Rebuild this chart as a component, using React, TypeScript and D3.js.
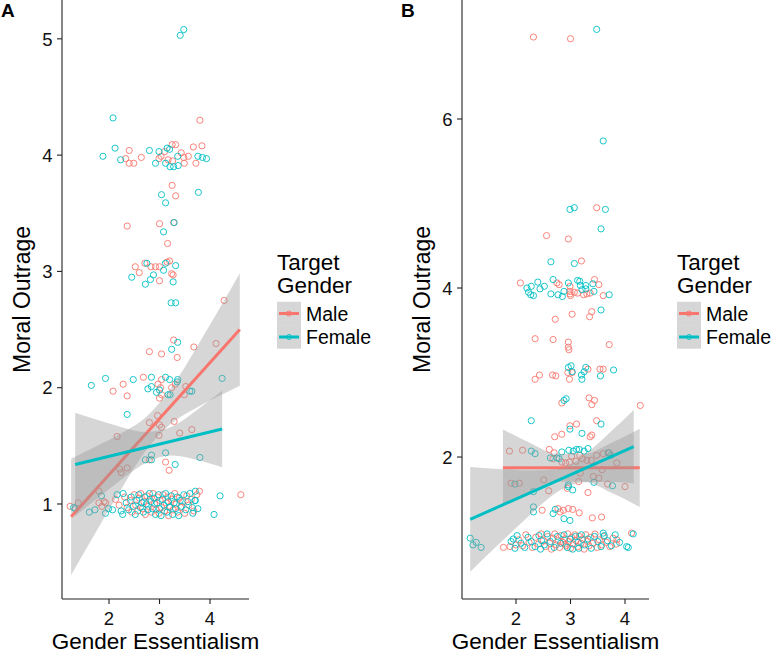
import * as d3 from "d3";

type Pt = [number, number];

const MALE = "#F8766D";
const FEMALE = "#00BFC4";
const FONT = "'Liberation Sans', Arial, sans-serif";

// ---- Panel A points (x = gender essentialism, y = moral outrage)
const maleA: Pt[] = [
  [3.8, 4.3], [2.4, 4.04], [2.33, 3.97], [2.4, 3.93], [2.49, 3.93], [2.64, 3.98], [2.99, 3.97], [3.03, 3.99],
  [3.1, 4.03], [3.25, 4.09], [3.32, 4.09], [3.26, 3.95], [3.17, 3.96], [3.43, 4.02], [3.48, 3.98], [3.49, 3.93],
  [3.57, 3.99], [3.67, 4.07], [3.84, 4.08], [3.72, 3.93],
  [3.25, 3.74], [3.32, 3.65], [2.36, 3.39], [3.0, 3.41], [3.28, 3.42], [3.16, 3.24],
  [2.52, 3.04], [2.6, 2.99], [2.71, 3.07], [2.83, 3.04], [2.92, 3.04], [3.0, 3.04], [3.0, 2.92], [3.15, 3.08],
  [3.2, 3.09], [3.24, 2.98], [3.27, 2.97], [4.28, 2.75],
  [3.28, 2.41], [2.8, 2.31], [3.04, 2.29], [3.35, 2.26], [3.68, 2.35], [4.12, 2.38],
  [2.28, 2.03], [2.08, 1.97], [2.36, 1.93], [2.68, 2.09], [3.04, 2.07], [2.97, 2.03], [3.02, 2.0], [3.0, 1.91],
  [3.04, 1.94], [3.24, 2.0], [3.31, 2.03], [3.52, 2.01], [3.49, 1.94],
  [2.96, 1.76], [2.8, 1.7], [3.0, 1.68], [3.04, 1.66], [3.29, 1.71], [2.99, 1.59], [3.4, 1.61], [3.64, 1.64], [2.16, 1.58],
  [2.8, 1.38], [3.12, 1.36], [3.19, 1.29], [2.21, 1.3], [2.24, 1.27], [2.36, 1.31],
  [1.23, 0.98], [1.39, 1.01], [1.8, 1.11], [1.8, 1.01], [1.9, 1.02], [1.93, 1.01], [1.86, 0.98], [3.79, 1.11], [4.61, 1.08],
  [2.31, 1.06], [2.36, 0.97], [2.42, 1.03], [2.45, 0.93], [2.5, 1.08], [2.53, 0.99], [2.57, 0.94], [2.6, 1.05],
  [2.63, 1.09], [2.66, 0.96], [2.69, 1.02], [2.72, 0.91], [2.75, 1.07], [2.78, 0.98], [2.81, 1.04], [2.84, 0.93],
  [2.87, 1.09], [2.9, 1.0], [2.93, 0.95], [2.96, 1.06], [2.99, 0.92], [3.01, 1.03], [3.04, 0.97], [3.07, 1.08],
  [3.1, 0.94], [3.13, 1.01], [3.16, 1.06], [3.18, 0.9], [3.21, 0.98], [3.24, 1.04], [3.27, 0.95], [3.3, 1.09],
  [3.33, 1.0], [3.36, 0.93], [3.39, 1.05], [3.42, 0.97], [3.46, 1.02], [3.5, 0.92], [3.54, 1.07], [3.58, 0.99],
  [3.63, 1.04], [3.68, 0.94], [3.74, 1.08], [2.2, 0.99], [2.13, 1.04],
];

const femaleA: Pt[] = [
  [3.41, 5.03], [3.48, 5.08], [2.08, 4.32], [1.88, 3.99], [2.12, 4.06], [2.23, 3.96], [2.8, 4.04], [2.99, 4.03],
  [2.92, 3.93], [3.15, 4.06], [3.2, 4.05], [3.12, 3.93], [3.21, 3.9], [3.28, 3.9], [3.36, 3.99], [3.37, 3.91],
  [3.76, 3.99], [3.85, 3.98], [3.93, 3.97],
  [3.04, 3.66], [3.77, 3.68], [3.12, 3.59], [3.29, 3.42], [3.08, 3.34],
  [2.45, 2.95], [2.75, 3.07], [2.72, 2.89], [2.82, 2.93], [2.88, 2.97], [3.08, 3.01], [3.12, 3.07], [3.32, 3.05],
  [3.27, 2.91], [3.23, 2.73], [3.32, 2.73],
  [3.36, 2.39], [3.24, 2.33],
  [1.65, 2.02], [1.93, 2.08], [2.48, 2.07], [2.84, 2.09], [3.12, 2.09], [3.2, 2.07], [2.77, 1.99], [2.84, 2.01],
  [2.94, 1.96], [3.0, 1.98], [3.17, 1.94], [3.21, 1.94], [3.36, 2.07], [3.35, 2.05], [3.64, 1.97], [3.6, 1.97], [4.24, 2.08],
  [2.36, 1.77],
  [2.72, 1.38], [2.84, 1.42], [2.84, 1.38], [3.12, 1.44], [3.31, 1.34], [3.8, 1.4],
  [1.33, 0.96], [1.3, 0.97], [1.61, 0.93], [1.72, 0.95], [1.85, 1.07], [1.99, 0.96], [2.07, 0.95], [1.93, 0.92],
  [2.27, 0.91], [4.2, 1.07], [4.08, 0.91], [3.71, 1.11], [3.71, 1.03], [3.76, 0.96], [3.66, 0.92],
  [2.28, 1.09], [2.34, 1.01], [2.39, 0.95], [2.44, 1.06], [2.48, 0.98], [2.52, 0.91], [2.55, 1.03], [2.59, 1.08],
  [2.62, 0.97], [2.65, 1.01], [2.68, 0.93], [2.71, 1.06], [2.74, 1.0], [2.77, 0.95], [2.8, 1.09], [2.83, 1.02],
  [2.86, 0.96], [2.89, 1.05], [2.92, 0.91], [2.95, 1.01], [2.98, 1.08], [3.0, 0.96], [3.03, 0.9], [3.06, 1.04],
  [3.09, 0.99], [3.12, 1.09], [3.15, 0.93], [3.17, 1.02], [3.2, 0.97], [3.23, 1.07], [3.26, 0.91], [3.29, 1.01],
  [3.32, 0.96], [3.35, 1.06], [3.38, 0.9], [3.41, 1.03], [3.44, 0.98], [3.48, 1.08], [3.52, 0.95], [3.56, 1.02],
  [3.6, 1.09], [3.65, 0.97], [3.7, 1.03], [2.16, 1.08], [2.24, 0.94],
];

// ---- Panel B points
const maleB: Pt[] = [
  [2.32, 6.97], [3.0, 6.95], [3.48, 4.95], [2.56, 4.62], [2.96, 4.58], [3.2, 4.32],
  [2.08, 4.06], [2.75, 4.06], [2.79, 4.04], [2.99, 4.02], [2.99, 3.96], [3.0, 3.91], [2.99, 3.93], [3.07, 3.95],
  [3.13, 3.94], [3.24, 3.92], [3.3, 3.93], [3.36, 3.94], [3.44, 4.1], [3.52, 4.04], [3.6, 3.91],
  [2.72, 3.63], [3.03, 3.69], [3.39, 3.72], [3.35, 3.66],
  [2.35, 3.4], [2.68, 3.39], [2.96, 3.36], [2.96, 3.3], [2.97, 3.27], [3.71, 3.33],
  [2.35, 2.92], [2.43, 2.97], [2.67, 2.97], [2.73, 2.96], [2.95, 3.0], [2.98, 2.92], [3.03, 3.0], [3.32, 3.04],
  [3.54, 3.04], [3.6, 3.04],
  [2.84, 2.64], [3.34, 2.7], [3.39, 2.62], [3.44, 2.67], [4.28, 2.61], [3.48, 2.43], [2.99, 2.37], [3.11, 2.39],
  [2.71, 2.24], [2.84, 2.27], [3.36, 2.24], [3.39, 2.26],
  [1.88, 2.07], [2.12, 2.08], [2.61, 2.09], [2.7, 2.05], [2.68, 1.98], [2.84, 1.94], [2.91, 1.93], [2.98, 1.94],
  [3.02, 2.01], [3.1, 1.95], [3.17, 2.02], [3.22, 1.98], [3.3, 1.96], [3.38, 1.96], [3.48, 2.02], [3.6, 2.04],
  [3.85, 1.93], [3.71, 2.05],
  [3.58, 1.85], [3.42, 1.77], [3.52, 1.75], [3.18, 1.81], [3.15, 1.71], [2.94, 1.63], [1.91, 1.69], [2.06, 1.69],
  [2.51, 1.73], [2.6, 1.6], [3.68, 1.68], [4.0, 1.65], [3.32, 1.58],
  [2.48, 1.37], [2.77, 1.39], [2.81, 1.35], [2.87, 1.37], [2.96, 1.39], [3.04, 1.38], [3.16, 1.34], [3.4, 1.28], [3.57, 1.29],
  [1.77, 0.93], [1.89, 0.94], [4.12, 1.1], [3.85, 1.02],
  [2.05, 1.02], [2.12, 0.95], [2.18, 1.08], [2.24, 0.99], [2.3, 0.93], [2.36, 1.05], [2.41, 0.97], [2.46, 1.09],
  [2.5, 1.01], [2.54, 0.94], [2.58, 1.06], [2.62, 0.98], [2.65, 0.91], [2.68, 1.04], [2.71, 1.09], [2.74, 0.96],
  [2.77, 1.01], [2.8, 0.93], [2.83, 1.07], [2.86, 0.99], [2.89, 1.03], [2.92, 0.95], [2.95, 1.09], [2.97, 1.0],
  [3.0, 0.92], [3.02, 1.05], [3.05, 0.97], [3.08, 1.08], [3.1, 1.01], [3.13, 0.94], [3.16, 1.06], [3.19, 0.98],
  [3.22, 1.03], [3.25, 0.91], [3.28, 1.08], [3.31, 1.0], [3.34, 0.95], [3.37, 1.05], [3.41, 0.98], [3.45, 1.09],
  [3.49, 0.93], [3.53, 1.02], [3.57, 0.96], [3.61, 1.06], [3.66, 0.99], [3.72, 0.94], [3.78, 1.04], [3.84, 0.97],
  [2.0, 0.96], [2.9, 0.97],
];

const femaleB: Pt[] = [
  [3.48, 7.06], [3.6, 5.74], [2.99, 4.93], [3.07, 4.95], [3.64, 4.93], [3.56, 4.7], [2.64, 4.31], [3.07, 4.29],
  [2.2, 4.0], [2.28, 4.02], [2.23, 3.95], [2.32, 3.91], [2.27, 3.92], [2.4, 4.07], [2.44, 3.99], [2.52, 4.02],
  [2.68, 4.1], [2.64, 3.93], [2.77, 3.92], [2.85, 3.9], [2.88, 3.96], [2.96, 4.06], [3.13, 4.09], [3.17, 4.08],
  [3.18, 4.03], [3.21, 3.98], [3.28, 4.03], [3.28, 3.99], [3.41, 4.05], [3.43, 3.96], [3.71, 3.92], [3.56, 3.74],
  [2.96, 3.06], [3.01, 3.08], [3.03, 3.01], [3.21, 2.92], [3.2, 2.97], [3.25, 3.01], [3.28, 3.06], [3.55, 2.96], [3.79, 3.03],
  [2.92, 2.69], [2.88, 2.67], [2.28, 2.43], [3.56, 2.39], [2.99, 2.33], [3.21, 2.28],
  [2.28, 2.07], [2.35, 2.04], [2.63, 1.99], [2.75, 1.99], [2.84, 2.06], [2.79, 1.98], [2.97, 2.08], [3.05, 2.07],
  [3.11, 2.09], [3.16, 2.09], [3.25, 2.07], [3.32, 2.1], [3.69, 2.05], [3.74, 2.02],
  [3.43, 1.7], [2.96, 1.67], [3.04, 1.61], [2.96, 1.65], [1.98, 1.68], [2.32, 1.59], [3.77, 1.66],
  [2.32, 1.41], [2.32, 1.35], [2.68, 1.33], [2.72, 1.38], [2.99, 1.25], [2.88, 1.27],
  [1.16, 1.04], [1.21, 0.96], [1.27, 0.99], [1.36, 0.93], [1.91, 1.0], [1.98, 0.92], [4.03, 0.94], [4.06, 0.93],
  [4.15, 1.09], [3.6, 1.1],
  [2.02, 1.07], [2.09, 0.98], [2.16, 0.93], [2.22, 1.05], [2.28, 1.0], [2.35, 0.94], [2.42, 1.07], [2.47, 1.01],
  [2.52, 0.96], [2.57, 1.09], [2.63, 1.0], [2.7, 0.93], [2.76, 1.06], [2.82, 0.98], [2.88, 1.08], [2.94, 0.93],
  [2.99, 1.03], [3.04, 0.91], [3.09, 1.06], [3.14, 0.99], [3.2, 1.08], [3.26, 0.96], [3.32, 1.03], [3.38, 0.92],
  [3.44, 1.06], [3.5, 1.0], [3.56, 0.94], [3.62, 1.07], [3.68, 1.01], [3.75, 0.95], [3.82, 1.08], [3.9, 0.99],
  [1.95, 1.03], [2.45, 0.91], [3.15, 0.92],
];

// ---- fitted lines and 95% confidence bands
const lineMaleA: Pt[] = [[1.25, 0.89], [4.59, 2.5]];
const lineFemaleA: Pt[] = [[1.33, 1.34], [4.24, 1.645]];
const lineMaleB: Pt[] = [[1.76, 1.873], [4.27, 1.873]];
const lineFemaleB: Pt[] = [[1.16, 1.263], [4.16, 2.122]];

const bandMaleAx = [1.25, 1.75, 2.25, 2.75, 3.25, 3.75, 4.25, 4.59];
const bandMaleAlo = [0.39, 0.766, 1.134, 1.471, 1.698, 1.833, 1.944, 2.016];
const bandMaleAhi = [1.39, 1.496, 1.61, 1.755, 2.01, 2.357, 2.728, 2.984];

const bandFemaleAx = [1.33, 1.75, 2.25, 2.75, 3.25, 3.75, 4.24];
const bandFemaleAlo = [0.895, 1.042, 1.211, 1.359, 1.416, 1.378, 1.315];
const bandFemaleAhi = [1.785, 1.726, 1.661, 1.619, 1.666, 1.81, 1.975];

const bandMaleBx = [1.76, 2.25, 2.75, 3.25, 3.75, 4.27];
const bandMaleBlo = [1.42, 1.577, 1.708, 1.708, 1.577, 1.41];
const bandMaleBhi = [2.326, 2.169, 2.038, 2.038, 2.169, 2.336];

const bandFemaleBx = [1.16, 1.75, 2.25, 2.75, 3.25, 3.75, 4.16];
const bandFemaleBlo = [0.643, 1.008, 1.31, 1.582, 1.701, 1.703, 1.688];
const bandFemaleBhi = [1.883, 1.856, 1.84, 1.854, 2.021, 2.307, 2.556];

const ticksAx = [2, 3, 4];
const ticksAy = [1, 2, 3, 4, 5];
const ticksBx = [2, 3, 4];
const ticksBy = [2, 4, 6];

const groups = ["Male", "Female"];

interface Band { x: number[]; lo: number[]; hi: number[] }
interface PanelProps {
  label: string;
  offset: number;
  xDomain: [number, number];
  yDomain: [number, number];
  xTicks: number[];
  yTicks: number[];
  male: Pt[];
  female: Pt[];
  lineM: Pt[];
  lineF: Pt[];
  bandM: Band;
  bandF: Band;
}

const margin = { left: 62, right: 249, top: 0, bottom: 599 };

function Panel(p: PanelProps) {
  const x = d3.scaleLinear().domain(p.xDomain).range([margin.left, margin.right]);
  const y = d3.scaleLinear().domain(p.yDomain).range([margin.bottom, margin.top]);

  // ribbon for a confidence band
  const bandPath = (b: Band) =>
    d3.area<number>()
      .x((_, i) => x(b.x[i]))
      .y0((_, i) => y(b.lo[i]))
      .y1((_, i) => y(b.hi[i]))
      .curve(d3.curveMonotoneX)(b.x) || "";
  const line = d3.line<Pt>().x(d => x(d[0])).y(d => y(d[1]));

  const pts = (data: Pt[], color: string) =>
    data.map((d, i) => (
      <circle key={color + i} cx={x(d[0])} cy={y(d[1])} r={3.1}
        fill="none" stroke={color} strokeWidth={0.9} />
    ));

  const legX = 277;
  return (
    <g transform={`translate(${p.offset},0)`}>
      <text x={1} y={17} fontSize={19} fontWeight="bold" fontFamily={FONT}>{p.label}</text>
      {pts(p.male, MALE)}
      {pts(p.female, FEMALE)}
      <path d={bandPath(p.bandM)} fill="#999999" fillOpacity={0.4} />
      <path d={line(p.lineM) || ""} stroke={MALE} strokeWidth={3} fill="none" />
      <path d={bandPath(p.bandF)} fill="#999999" fillOpacity={0.4} />
      <path d={line(p.lineF) || ""} stroke={FEMALE} strokeWidth={3} fill="none" />

      {/* axes */}
      <line x1={margin.left} x2={margin.left} y1={margin.top} y2={margin.bottom} stroke="#222" strokeWidth={1.1} />
      <line x1={margin.left} x2={margin.right} y1={margin.bottom} y2={margin.bottom} stroke="#222" strokeWidth={1.1} />
      {p.yTicks.map(t => (
        <g key={"y" + t}>
          <line x1={margin.left - 5} x2={margin.left} y1={y(t)} y2={y(t)} stroke="#222" strokeWidth={1.1} />
          <text x={margin.left - 9.5} y={y(t)} dy="0.36em" textAnchor="end" fontSize={18.5} fontFamily={FONT} fill="#111">{t}</text>
        </g>
      ))}
      {p.xTicks.map(t => (
        <g key={"x" + t}>
          <line x1={x(t)} x2={x(t)} y1={margin.bottom} y2={margin.bottom + 5} stroke="#222" strokeWidth={1.1} />
          <text x={x(t)} y={624.5} textAnchor="middle" fontSize={18.5} fontFamily={FONT} fill="#111">{t}</text>
        </g>
      ))}
      <text transform={`translate(30,${(margin.top + margin.bottom) / 2}) rotate(-90)`} textAnchor="middle"
        fontSize={23} fontFamily={FONT}>Moral Outrage</text>
      <text x={(margin.left + margin.right) / 2} y={649.2} textAnchor="middle" fontSize={22.5} fontFamily={FONT}>Gender Essentialism</text>

      {/* legend */}
      <text x={legX} y={270} fontSize={22.5} fontFamily={FONT}>Target</text>
      <text x={legX} y={293} fontSize={22.5} fontFamily={FONT}>Gender</text>
      {groups.map((g, i) => {
        const cy = 313.5 + i * 23.5;
        const col = i === 0 ? MALE : FEMALE;
        return (
          <g key={g}>
            <rect x={legX} y={cy - 11.75} width={24} height={23.5} fill="#999999" fillOpacity={0.4} />
            <line x1={legX + 2} x2={legX + 22} y1={cy} y2={cy} stroke={col} strokeWidth={3} />
            <circle cx={legX + 12} cy={cy} r={2.5} fill="none" stroke={col} strokeWidth={0.9} />
            <text x={legX + 29} y={cy} dy="0.36em" fontSize={19.5} fontFamily={FONT}>{g}</text>
          </g>
        );
      })}
    </g>
  );
}

export default function App() {
  return (
    <svg width={771} height={654} style={{ position: "absolute", left: 0, top: 0, background: "#fff" }}>
      <rect width={771} height={654} fill="#fff" />
      <Panel label="A" offset={0} xDomain={[1.069, 4.772]} yDomain={[0.183, 5.334]}
        xTicks={ticksAx} yTicks={ticksAy} male={maleA} female={femaleA}
        lineM={lineMaleA} lineF={lineFemaleA}
        bandM={{ x: bandMaleAx, lo: bandMaleAlo, hi: bandMaleAhi }}
        bandF={{ x: bandFemaleAx, lo: bandFemaleAlo, hi: bandFemaleAhi }} />
      <Panel label="B" offset={400} xDomain={[1.009, 4.44]} yDomain={[0.32, 7.408]}
        xTicks={ticksBx} yTicks={ticksBy} male={maleB} female={femaleB}
        lineM={lineMaleB} lineF={lineFemaleB}
        bandM={{ x: bandMaleBx, lo: bandMaleBlo, hi: bandMaleBhi }}
        bandF={{ x: bandFemaleBx, lo: bandFemaleBlo, hi: bandFemaleBhi }} />
    </svg>
  );
}
